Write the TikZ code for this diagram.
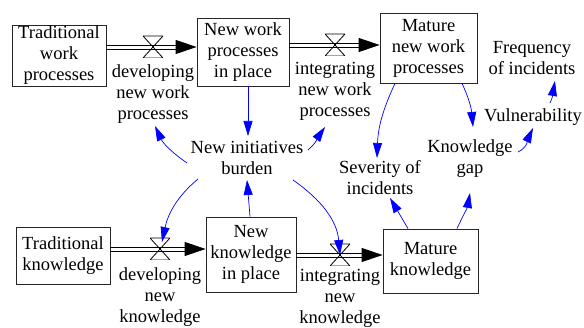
\documentclass[tikz,border=0pt]{standalone}
\usepackage{fontspec}
\setmainfont{Liberation Serif}
\usetikzlibrary{arrows.meta,calc}
\begin{document}
\begin{tikzpicture}[x=1pt,y=1pt,
  every node/.style={font=\fontsize{18.5}{21}\selectfont, align=center, inner sep=0pt, text=black},
  stock/.style={draw=black!85, line width=0.8pt, fill=white},
  lab/.style={},
  valve/.style={minimum width=20pt, minimum height=22pt, inner sep=0pt,
    path picture={\draw[line width=0.8pt] (path picture bounding box.north west) -- (path picture bounding box.north east) -- (path picture bounding box.south west) -- (path picture bounding box.south east) -- cycle;}},
  pipeline/.style={draw=black, line width=0.8pt},
  pipehead/.style={draw=black, line width=0.8pt, -{Triangle[length=21pt,width=14pt]}},
  infl/.style={draw=blue, line width=0.7pt, -{Triangle[length=15pt,width=9pt]}}
]
\useasboundingbox (0,0) rectangle (584,328);
% stocks
\node[stock, minimum width=94pt, minimum height=61pt] (tw) at (59,272.5) {Traditional\\work\\processes};
\node[stock, minimum width=92pt, minimum height=68pt] (nw) at (243,276) {New work\\processes\\in place};
\node[stock, minimum width=97pt, minimum height=70pt] (mw) at (428.5,280) {Mature\\new work\\processes};
\node[stock, minimum width=94pt, minimum height=57pt] (tk) at (63,72.5) {Traditional\\knowledge};
\node[stock, minimum width=90pt, minimum height=75pt] (nk) at (251,73.5) {New\\knowledge\\in place};
\node[stock, minimum width=95pt, minimum height=64pt] (mk) at (430.5,67) {Mature\\knowledge};
% valves
\node[valve] (v1) at (153,281) {};
\node[valve] (v2) at (335,283) {};
\node[valve] (v3) at (160,79) {};
\node[valve] (v4) at (340,73) {};
% pipes (two parallel lines + head)
\foreach \a/\b/\v in {tw/nw/v1, nw/mw/v2, tk/nk/v3, nk/mk/v4}{
  \draw[pipeline] ($(\a.east |- \v)+(0,2)$) -- ($(\b.west |- \v)+(-18,2)$);
  \draw[pipeline] ($(\a.east |- \v)+(0,-2)$) -- ($(\b.west |- \v)+(-18,-2)$);
  \draw[pipehead] ($(\b.west |- \v)+(-21,0)$) -- (\b.west |- \v);
}
% labels
\node[lab] (l1) at (153,234) {developing\\new work\\processes};
\node[lab] (l2) at (335,237) {integrating\\new work\\processes};
\node[lab] (l3) at (160,31) {developing\\new\\knowledge};
\node[lab] (l4) at (340,30) {integrating\\new\\knowledge};
\node[lab] (burden) at (247,170) {New initiatives\\burden};
\node[lab] (sev) at (380,150) {Severity of\\incidents};
\node[lab] (kgap) at (470,169) {Knowledge\\gap};
\node[lab] (vuln) at (533,211) {Vulnerability};
\node[lab] (freq) at (532,270) {Frequency\\of incidents};
% influences
\draw[infl] ($(nw.south)+(5,0)$) -- ($(burden)+(1,22)$);
\draw[infl] ($(burden)+(-60,-5)$) to[out=145,in=-65] ($(l1)+(2,-32)$);
\draw[infl] ($(burden)+(61,8)$) to[out=40,in=-125] ($(l2)+(-10,-36)$);
\draw[infl] ($(burden)+(-49,-21)$) to[out=-140,in=78] ($(v3)+(2,7)$);
\draw[infl] ($(nk.north)+(-1,0)$) -- ($(burden)+(0,-22)$);
\draw[infl] ($(burden)+(46,-22)$) to[out=-35,in=95] (v4.center);
\draw[infl] ($(mw.south)+(-33.5,0)$) to[out=-115,in=88] ($(sev)+(-3,20)$);
\draw[infl] ($(mw.south)+(33.5,0)$) to[out=-65,in=95] ($(kgap)+(3,32)$);
\draw[infl] ($(kgap)+(48,7)$) to[out=25,in=-115] ($(vuln)+(0,-11)$);
\draw[infl] ($(vuln)+(17,14)$) to[out=65,in=-100] ($(freq)+(23,-23)$);
\draw[infl] ($(mk.north)+(-22.5,0)$) -- ($(sev)+(10,-20)$);
\draw[infl] ($(mk.north)+(26.5,0)$) to[out=65,in=-100] ($(kgap)+(0,-34)$);
\end{tikzpicture}
\end{document}
